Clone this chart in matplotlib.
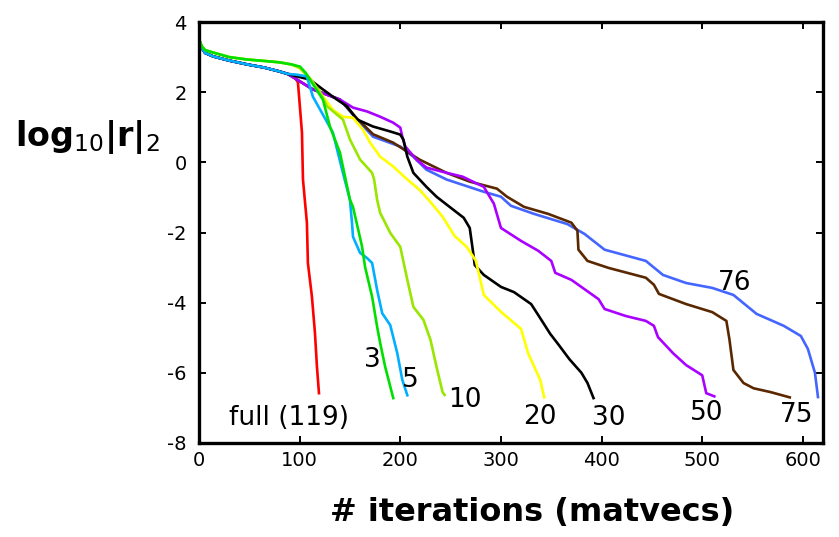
import matplotlib
matplotlib.use("Agg")
import matplotlib.pyplot as plt

plt.rcParams['font.family'] = ['DejaVu Sans']
plt.rcParams['mathtext.fontset'] = 'dejavusans'
plt.rcParams['axes.unicode_minus'] = False

# shared start of the residual histories (two slightly different paths)
low_x = [0, 3, 6, 14, 30, 48, 65, 80, 88]
low_y = [3.5, 3.25, 3.12, 3.02, 2.9, 2.79, 2.7, 2.59, 2.52]
high_x = [0, 3, 6, 14, 30, 48, 65, 80, 92]
high_y = [3.5, 3.3, 3.2, 3.13, 3.0, 2.93, 2.89, 2.85, 2.79]

full_x = [93.3, 98.3, 102.3, 103.3, 107.2, 108.2, 112.2, 115.2, 117.2, 119.2]
full_y = [2.5, 2.28, 0.85, -0.49, -1.72, -2.87, -3.83, -4.86, -5.83, -6.58]

k3_x = [100.3, 106, 112.2, 123.1, 130.1, 140, 150, 153, 162, 165, 172, 177, 180, 185, 193]
k3_y = [2.73, 2.55, 2.27, 1.79, 1.02, 0.28, -1.07, -1.27, -2.4, -2.98, -3.83, -4.69, -5.15, -5.83, -6.72]

k5_x = [97, 107, 113.2, 133, 143, 150, 152, 153, 160, 167, 172, 177, 182, 190, 197, 202, 207]
k5_y = [2.5, 2.45, 1.87, 0.85, -0.3, -1.07, -1.72, -2.12, -2.58, -2.73, -2.87, -3.64, -4.3, -4.64, -5.44, -6.2, -6.64]

k10_x = [100, 110, 120.2, 127.1, 143, 150, 160, 172, 174, 177, 180, 190, 200, 207, 213, 223, 230, 236, 242, 244]
k10_y = [2.7, 2.4, 2.0, 1.6, 1.22, 0.65, 0.08, -0.3, -0.49, -1.07, -1.44, -2.01, -2.41, -3.35, -4.12, -4.49, -5.06, -5.83, -6.55, -6.63]

k20_x = [100, 110, 120.2, 133, 143, 153, 163, 170, 180, 193, 207, 219, 229, 242, 254, 266, 275, 283, 300, 320, 327, 339, 343]
k20_y = [2.68, 2.4, 1.99, 1.5, 1.3, 1.27, 0.93, 0.56, 0.16, -0.12, -0.49, -0.78, -1.1, -1.55, -2.1, -2.41, -2.8, -3.78, -4.26, -4.75, -5.44, -6.2, -6.7]

k30_x = [97.3, 110, 123, 137, 147, 157, 173, 190, 200, 203, 207, 213, 226, 236, 249, 263, 269, 272, 274, 283,
         300, 313, 330, 337, 349, 356, 368, 380, 386, 392]
k30_y = [2.45, 2.36, 2.08, 1.79, 1.6, 1.22, 1.02, 0.88, 0.79, 0.65, 0.16, -0.3, -0.7, -0.98, -1.27, -1.58, -1.87, -2.49, -2.93, -3.21,
         -3.55, -3.7, -4.04, -4.35, -4.89, -5.15, -5.61, -6.0, -6.29, -6.72]

k50_x = [97.3, 113, 140, 153, 167, 180, 193, 200, 202, 205, 216, 226, 242, 262, 283, 293, 300, 320, 337, 350, 354, 370,
         397, 403, 424, 444, 452, 456, 471, 484, 500, 504, 512]
k50_y = [2.36, 2.08, 1.79, 1.56, 1.45, 1.3, 1.13, 0.99, 0.73, 0.45, 0.08, -0.15, -0.27, -0.41, -0.7, -1.18, -1.87, -2.24, -2.52, -2.81, -3.15, -3.35,
         -3.9, -4.18, -4.38, -4.52, -4.66, -4.98, -5.44, -5.78, -6.07, -6.58, -6.67]

k75_x = [97.3, 113, 140, 157, 173, 193, 219, 246, 269, 296, 306, 323, 347, 370, 376, 377, 386, 407, 444, 452, 457,
         484, 510, 524, 527, 531, 541, 551, 568, 587]
k75_y = [2.36, 2.08, 1.79, 1.25, 0.8, 0.56, 0.08, -0.3, -0.55, -0.75, -0.98, -1.27, -1.47, -1.72, -1.95, -2.49, -2.81, -3.01, -3.29, -3.49, -3.75,
         -4.04, -4.27, -4.52, -5.04, -5.92, -6.29, -6.44, -6.55, -6.7]

k76_x = [97.3, 113, 140, 157, 173, 200, 213, 226, 246, 283, 300, 310, 333, 366, 383, 403, 444, 461, 484, 510, 531,
         554, 581, 598, 605, 612, 615]
k76_y = [2.36, 2.08, 1.79, 1.22, 0.73, 0.45, 0.16, -0.21, -0.49, -0.84, -0.98, -1.24, -1.47, -1.76, -2.04, -2.49, -2.81, -3.21, -3.44, -3.58, -3.78,
         -4.32, -4.66, -4.95, -5.32, -6.0, -6.69]

series = [
    (low_x + full_x, low_y + full_y, '#ff0000'),
    (low_x + k76_x, low_y + k76_y, '#4466ff'),
    (low_x + k75_x, low_y + k75_y, '#5a2800'),
    (low_x + k50_x, low_y + k50_y, '#aa00ff'),
    (low_x + k30_x, low_y + k30_y, '#000000'),
    (high_x + k20_x, high_y + k20_y, '#ffff00'),
    (high_x + k10_x, high_y + k10_y, '#99e600'),
    (low_x + k5_x, low_y + k5_y, '#00b0ff'),
    (high_x + k3_x, high_y + k3_y, '#00e000'),
]

# curve labels: text, x, y
labels = [
    ('full (119)', 89, -7.3),
    ('3', 172, -5.64),
    ('5', 210, -6.2),
    ('10', 264, -6.78),
    ('20', 339, -7.27),
    ('30', 407, -7.3),
    ('50', 504, -7.15),
    ('75', 594, -7.21),
    ('76', 532, -3.44),
]

fig = plt.figure(figsize=(8.39, 5.37), dpi=100)
ax = fig.add_axes([199 / 839, 1 - 443 / 537, 624 / 839, 421 / 537])

for xs, ys, col in series:
    ax.plot(xs, ys, color=col, lw=1.9, solid_joinstyle='round')

for txt, x, y in labels:
    ax.text(x, y, txt, fontsize=19, ha='center', va='center')

ax.set_xlim(0, 620)
ax.set_ylim(-8, 4)
ax.set_xticks(range(0, 601, 100))
ax.set_yticks(range(-8, 5, 2))
ax.tick_params(direction='in', top=True, right=True, length=5, width=1.4,
               labelsize=14)
ax.tick_params(axis='x', pad=6)
ax.tick_params(axis='y', pad=9)
for sp in ax.spines.values():
    sp.set_linewidth(2.4)

fig.text(15 / 839, 1 - 146 / 537, r'$\mathbf{log}_{10}\mathbf{|r|}_{2}$',
         fontsize=24, ha='left', va='baseline')
fig.text(532 / 839, 1 - 513 / 537, '# iterations (matvecs)',
         fontsize=23, fontweight='bold', ha='center', va='center')

fig.savefig('out.png', dpi=100)
